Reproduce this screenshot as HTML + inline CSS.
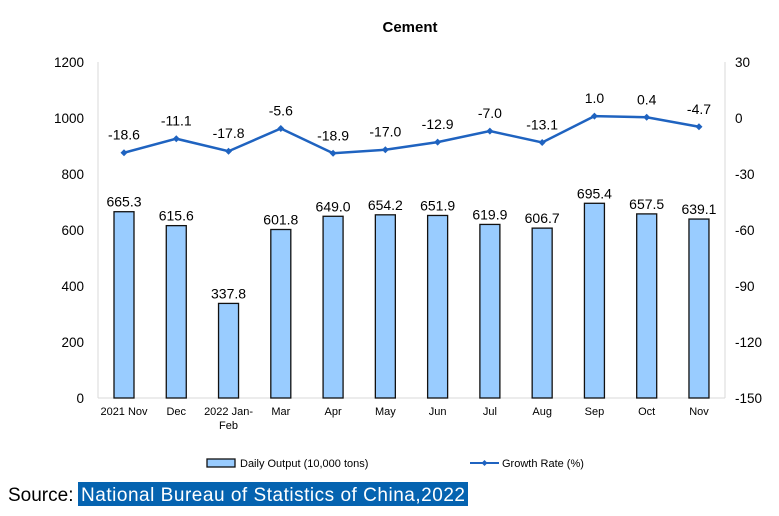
<!DOCTYPE html>
<html><head><meta charset="utf-8"><style>
body{margin:0;background:#fff;width:779px;height:511px;overflow:hidden;font-family:"Liberation Sans",Arial,sans-serif}
</style></head><body>
<svg width="779" height="511" xmlns="http://www.w3.org/2000/svg" font-family="Liberation Sans, Arial, sans-serif">
<text x="410" y="32" font-size="15" font-weight="bold" text-anchor="middle" fill="#000">Cement</text>
<g stroke="#d9d9d9" stroke-width="1">
<line x1="98" y1="62" x2="98" y2="398"/>
<line x1="725" y1="62" x2="725" y2="398"/>
<line x1="98" y1="398" x2="725" y2="398"/>
</g>
<g font-size="13.5" fill="#000" text-anchor="end">
<text x="84" y="67">1200</text><text x="84" y="123">1000</text><text x="84" y="179">800</text>
<text x="84" y="235">600</text><text x="84" y="291">400</text><text x="84" y="347">200</text><text x="84" y="403">0</text>
</g>
<g font-size="13.5" fill="#000" text-anchor="start">
<text x="735" y="67">30</text><text x="735" y="123">0</text><text x="735" y="179">-30</text>
<text x="735" y="235">-60</text><text x="735" y="291">-90</text><text x="735" y="347">-120</text><text x="735" y="403">-150</text>
</g>
<g id="bars" fill="#99ccff" stroke="#111" stroke-width="1.3"></g>
<g id="blabels" font-size="14" text-anchor="middle" fill="#000"></g>
<polyline id="line" fill="none" stroke="#1f63c0" stroke-width="2.5"/>
<g id="marks" fill="#1f63c0"></g>
<g id="llabels" font-size="14" text-anchor="middle" fill="#000"></g>
<g id="cats" font-size="11" text-anchor="middle" fill="#000"></g>
<rect x="207" y="459" width="28" height="8" fill="#99ccff" stroke="#111" stroke-width="1.3"/>
<text x="240" y="467" font-size="11" fill="#000">Daily Output (10,000 tons)</text>
<line x1="470" y1="463" x2="499" y2="463" stroke="#1f63c0" stroke-width="2"/>
<path d="M484.5 460 L487.5 463 L484.5 466 L481.5 463Z" fill="#1f63c0"/>
<text x="502" y="467" font-size="11" fill="#000">Growth Rate (%)</text>
<rect x="78" y="482" width="390" height="24" fill="#0563b0"/>
<text x="8" y="501" font-size="19" fill="#000">Source:</text>
<text x="81" y="501" font-size="19" fill="#fff" textLength="384">National Bureau of Statistics of China,2022</text>
</svg>
<script>
var ns="http://www.w3.org/2000/svg";
var b=[665.3,615.6,337.8,601.8,649.0,654.2,651.9,619.9,606.7,695.4,657.5,639.1];
var g=[-18.6,-11.1,-17.8,-5.6,-18.9,-17.0,-12.9,-7.0,-13.1,1.0,0.4,-4.7];
var c=["2021 Nov","Dec","2022 Jan-","Mar","Apr","May","Jun","Jul","Aug","Sep","Oct","Nov"];
function el(t,a,p,tx){var e=document.createElementNS(ns,t);for(var k in a)e.setAttribute(k,a[k]);if(tx!=null)e.textContent=tx;document.getElementById(p).appendChild(e);}
var pts=[];
for(var i=0;i<12;i++){
 var x=124+i*52.27, h=b[i]*0.28, y=398-h;
 el("rect",{x:x-10,y:y,width:20,height:h},"bars");
 el("text",{x:x,y:y-5},"blabels",b[i].toFixed(1));
 var ly=118-g[i]*1.867; pts.push(x+","+ly);
 el("path",{d:"M"+x+" "+(ly-3.5)+" L"+(x+3.5)+" "+ly+" L"+x+" "+(ly+3.5)+" L"+(x-3.5)+" "+ly+"Z"},"marks");
 el("text",{x:x,y:ly-13},"llabels",g[i].toFixed(1));
 el("text",{x:x,y:415},"cats",c[i]);
}
el("text",{x:124+2*52.27,y:429},"cats","Feb");
document.getElementById("line").setAttribute("points",pts.join(" "));
</script>
</body></html>
